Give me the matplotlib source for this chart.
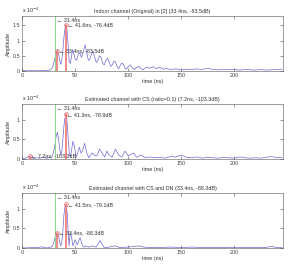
import numpy as np
import matplotlib
matplotlib.use("Agg")
import matplotlib.pyplot as plt

plt.rcParams["font.family"] = ["Liberation Sans", "DejaVu Sans"]

# ---- data (amplitude in units of 1e-4, time in ns) ----
t1 = [0, 5, 10, 15, 20, 24, 26, 27.5, 29, 30, 31, 32, 33.4, 34.5, 35.5, 36.5,
      37.5, 38.5, 39.5, 40.5, 41.6, 42.5, 43.5, 44.5, 45.5, 46.5, 47.5, 48.5,
      50, 51.5, 53, 54.5, 56, 57.5, 59.5, 61, 62.5, 64, 65.5, 67, 68.5, 70,
      71.5, 73, 74.5, 76, 77.5, 79, 80.5, 82, 83.5, 85, 86.5, 88, 89.5, 91,
      92.5, 94, 95.5, 97, 98.5, 100, 102, 104, 106, 108, 110, 112, 114, 116,
      118, 120, 122, 124, 126, 128, 130, 133, 136, 140, 145, 150, 155, 160,
      165, 170, 175, 180, 185, 190, 195, 200, 205, 210, 215, 220, 225, 230,
      235, 240, 245]
a1 = [0.01, 0.01, 0.01, 0.01, 0.01, 0.02, 0.03, 0.06, 0.15, 0.28, 0.42, 0.58, 0.67, 0.55, 0.35, 0.22,
      0.35, 0.7, 1.1, 1.4, 1.51, 1.3, 0.8, 0.3, 0.25, 0.45, 0.7, 0.6,
      0.4, 0.35, 0.55, 0.6, 0.45, 0.6, 0.86, 0.6, 0.35, 0.4, 0.55, 0.65, 0.45, 0.28,
      0.35, 0.5, 0.45, 0.25, 0.2, 0.35, 0.42, 0.3, 0.15, 0.2, 0.32, 0.3, 0.15, 0.08,
      0.18, 0.26, 0.22, 0.1, 0.06, 0.14, 0.2, 0.1, 0.05, 0.12, 0.15, 0.08, 0.04, 0.1,
      0.13, 0.09, 0.12, 0.14, 0.08, 0.1, 0.12, 0.06, 0.08, 0.05, 0.07, 0.04, 0.06, 0.05,
      0.07, 0.05, 0.09, 0.05, 0.04, 0.06, 0.04, 0.05, 0.03, 0.05, 0.04, 0.03, 0.05, 0.03,
      0.04, 0.05, 0.06]

t2 = [0, 3, 5, 7.2, 9, 11, 14, 17, 20, 23, 26, 28, 29.5, 31, 32, 33.3, 34.5,
      35.5, 36.5, 37.5, 38.5, 39.5, 40.5, 41.3, 42.3, 43.3, 44.5, 45.5, 46.5,
      48, 49.5, 51, 52.5, 54, 55.5, 57, 59, 61, 63, 66, 69, 71, 73, 75.5, 78,
      80, 82, 85, 88, 91, 94, 97, 100, 103, 105, 108, 112, 116, 120, 125,
      130, 135, 140, 145, 150, 155, 160, 165, 170, 175, 180, 185, 190, 195,
      200, 205, 210, 215, 220, 225, 230, 235, 240, 245]
a2 = [0.01, 0.02, 0.04, 0.068, 0.04, 0.01, 0.03, 0.02, 0.04, 0.02, 0.03, 0.05, 0.15, 0.35, 0.55, 0.68, 0.5,
      0.25, 0.1, 0.2, 0.5, 0.85, 1.05, 1.135, 1.0, 0.6, 0.15, 0.05, 0.2,
      0.45, 0.3, 0.05, 0.15, 0.3, 0.15, 0.2, 0.4, 0.15, 0.03, 0.15, 0.08, 0.1, 0.25, 0.15, 0.05,
      0.2, 0.1, 0.05, 0.25, 0.1, 0.05, 0.2, 0.08, 0.12, 0.15, 0.04, 0.1, 0.03, 0.05, 0.03,
      0.04, 0.02, 0.06, 0.05, 0.1, 0.04, 0.03, 0.05, 0.02, 0.04, 0.03, 0.02, 0.04, 0.03,
      0.02, 0.05, 0.03, 0.02, 0.03, 0.02, 0.04, 0.06, 0.03, 0.04]

t3 = [0, 5, 10, 15, 17, 18.6, 20, 23, 26, 28, 29.5, 31, 32, 33.4, 34.5, 35.5,
      36.5, 37.5, 38.5, 39.5, 40.5, 41.5, 42.5, 43.5, 44.3, 45.3, 46.5, 48,
      50, 52, 54.7, 56.5, 58, 60, 63, 66, 70, 73.6, 77, 80, 85, 88, 92, 100,
      105, 110, 115, 120, 130, 140, 150, 160, 170, 180, 190, 200, 210, 220,
      230, 235, 240, 245]
a3 = [0.0, 0.0, 0.01, 0.01, 0.02, 0.03, 0.01, 0.0, 0.01, 0.03, 0.1, 0.25, 0.33, 0.385, 0.3, 0.15,
      0.05, 0.15, 0.45, 0.85, 1.05, 1.11, 0.9, 0.4, 0.05, 0.38, 0.3, 0.05,
      0.21, 0.08, 0.26, 0.1, 0.02, 0.05, 0.02, 0.05, 0.02, 0.19, 0.02, 0.01, 0.04, 0.05, 0.01, 0.02,
      0.04, 0.05, 0.02, 0.01, 0.01, 0.02, 0.01, 0.02, 0.01, 0.01, 0.01, 0.01, 0.01, 0.01,
      0.01, 0.04, 0.01, 0.01]

titles = [
    "Indoor channel (Original) in [2] (33.4ns, -83.5dB)",
    "Estimated channel with CS (ratio=0.1) (7.2ns, -103.3dB)",
    "Estimated channel with CS and DN (33.4ns, -88.3dB)",
]
first_arrival = 31.4
# marked peaks: (time, amplitude, dB)
peaks = [
    [(41.6, 1.51, -76.4), (33.4, 0.67, -83.5)],
    [(41.3, 1.135, -78.9), (7.2, 0.068, -103.3)],
    [(41.5, 1.11, -79.1), (33.4, 0.385, -88.3)],
]
ylims = [1.8, 1.4, 1.4]
yticks = [[0, 0.5, 1, 1.5], [0, 0.5, 1], [0, 0.5, 1]]
series = [(t1, a1), (t2, a2), (t3, a3)]

fig = plt.figure(figsize=(2.9, 2.64), dpi=100)
bottoms = [0.731, 0.398, 0.061]
fs = 3.9

for i in range(3):
    ax = fig.add_axes([0.076, bottoms[i], 0.9, 0.208])
    t, a = series[i]
    ax.plot(t, a, color="#6a6ad4", linewidth=0.5)
    ax.axvline(first_arrival, color="#8cd88c", linewidth=0.7)
    for (pt, pa, db) in peaks[i]:
        ax.vlines(pt, 0, pa, color="#f08080", linewidth=1.3)
        ax.plot(pt, pa, "o", mfc="none", mec="#e86a6a", ms=2.6, mew=0.6)
        ax.text(pt + 1.5, pa, "\u2190 %.1fns, %.1fdB" % (pt, db),
                fontsize=fs, va="center", ha="left", color="#333333")
    ax.text(first_arrival + 1.5, ylims[i] * 0.92, "\u2190 %.1fns" % first_arrival,
            fontsize=fs, va="center", ha="left", color="#333333")
    ax.set_xlim(0, 246)
    ax.set_ylim(0, ylims[i])
    ax.set_xticks([0, 50, 100, 150, 200])
    ax.set_yticks(yticks[i])
    ax.set_yticklabels(["0", "0.5", "1", "1.5"][:len(yticks[i])])
    ax.tick_params(direction="in", length=2, width=0.4, labelsize=fs,
                   top=True, right=True, pad=1.5, colors="#444444")
    for s in ax.spines.values():
        s.set_linewidth(0.4)
        s.set_color("#555555")
    ax.set_title(titles[i], fontsize=fs, pad=2, color="#333333")
    ax.set_xlabel("time (ns)", fontsize=fs, labelpad=1, color="#333333")
    ax.set_ylabel("Amplitude", fontsize=fs, labelpad=1, color="#333333")
    ax.text(0, 1.02, "x 10$^{-4}$", transform=ax.transAxes, fontsize=fs,
            ha="left", va="bottom", color="#333333")

fig.savefig("out.png", dpi=100)
